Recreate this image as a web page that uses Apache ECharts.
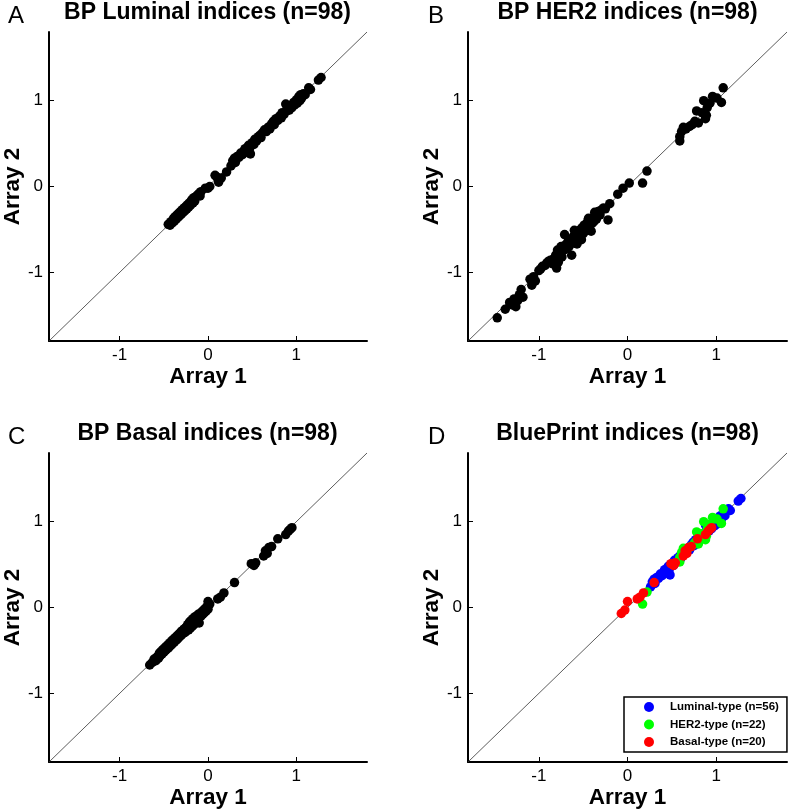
<!DOCTYPE html>
<html><head><meta charset="utf-8">
<script src="https://cdn.jsdelivr.net/npm/echarts@6/dist/echarts.min.js"></script>
<style>html,body{margin:0;padding:0;background:#fff}#c{width:790px;height:811px}</style>
</head><body><div id="c"></div>
<script>
// ---------- data ----------
const tickValues = [-1, 0, 1];
const axisRange = [-1.8, 1.8];
const panelLetters = ['A', 'B', 'C', 'D'];
const panelTitles = ['BP Luminal indices (n=98)', 'BP HER2 indices (n=98)', 'BP Basal indices (n=98)', 'BluePrint indices (n=98)'];
const xAxisName = 'Array 1';
const yAxisName = 'Array 2';
const legendLabels = ['Luminal-type (n=56)', 'HER2-type (n=22)', 'Basal-type (n=20)'];

// Luminal index [array1, array2] of Luminal-type samples (56)
const luminalTypeLum = [[0.26,0.24],[0.28,0.30],[0.30,0.33],[0.33,0.35],[0.35,0.34],[0.37,0.39],[0.39,0.37],[0.41,0.42],[0.43,0.40],[0.45,0.46],[0.47,0.44],[0.48,0.38],[0.50,0.51],[0.52,0.49],[0.53,0.55],[0.55,0.53],[0.57,0.58],[0.59,0.60],[0.60,0.57],[0.62,0.63],[0.64,0.66],[0.66,0.64],[0.68,0.69],[0.70,0.67],[0.72,0.73],[0.74,0.76],[0.75,0.72],[0.77,0.79],[0.79,0.77],[0.81,0.82],[0.83,0.80],[0.84,0.86],[0.86,0.84],[0.88,0.96],[0.89,0.88],[0.90,0.91],[0.92,0.89],[0.93,0.94],[0.95,0.92],[0.97,0.98],[0.98,0.95],[1.00,1.01],[1.01,0.97],[1.03,1.05],[1.04,1.00],[1.05,1.07],[1.06,1.03],[1.08,1.08],[1.10,1.07],[1.14,1.15],[1.16,1.13],[1.25,1.24],[1.28,1.27],[0.46,0.48],[0.31,0.28],[0.42,0.44]];
// Luminal index of the other samples (42)
const otherLum = [[-0.45,-0.44],[-0.43,-0.45],[-0.42,-0.41],[-0.40,-0.42],[-0.39,-0.37],[-0.38,-0.40],[-0.37,-0.35],[-0.36,-0.38],[-0.35,-0.33],[-0.34,-0.36],[-0.33,-0.31],[-0.32,-0.34],[-0.31,-0.29],[-0.30,-0.32],[-0.29,-0.27],[-0.28,-0.30],[-0.27,-0.25],[-0.26,-0.28],[-0.25,-0.23],[-0.24,-0.26],[-0.23,-0.21],[-0.22,-0.24],[-0.21,-0.19],[-0.20,-0.22],[-0.19,-0.17],[-0.18,-0.15],[-0.17,-0.19],[-0.16,-0.13],[-0.15,-0.17],[-0.14,-0.12],[-0.12,-0.10],[-0.10,-0.08],[-0.09,-0.11],[-0.08,-0.06],[-0.03,-0.02],[0.00,-0.02],[0.02,0.00],[0.08,0.13],[0.10,0.11],[0.12,0.05],[0.15,0.10],[0.21,0.17]];

// HER2 index of HER2-type samples (22)
const her2TypeHer2 = [[0.17,0.04],[0.22,0.18],[0.59,0.53],[0.59,0.58],[0.61,0.64],[0.63,0.69],[0.66,0.67],[0.70,0.70],[0.73,0.72],[0.76,0.76],[0.78,0.88],[0.80,0.74],[0.84,0.86],[0.86,1.00],[0.88,0.79],[0.89,0.83],[0.90,0.92],[0.93,0.97],[0.96,1.05],[1.01,1.03],[1.06,0.98],[1.08,1.15]];
// HER2 index of the other samples (76)
const otherHer2 = [[-1.47,-1.53],[-1.38,-1.43],[-1.33,-1.35],[-1.30,-1.38],[-1.28,-1.31],[-1.26,-1.40],[-1.24,-1.33],[-1.22,-1.26],[-1.20,-1.20],[-1.18,-1.29],[-1.10,-1.08],[-1.08,-1.15],[-1.06,-1.05],[-1.04,-1.10],[-1.00,-0.98],[-0.98,-0.96],[-0.96,-0.93],[-0.93,-0.92],[-0.91,-0.89],[-0.89,-0.87],[-0.87,-0.86],[-0.85,-0.90],[-0.83,-0.84],[-0.81,-0.80],[-0.80,-0.95],[-0.79,-0.74],[-0.78,-0.88],[-0.76,-0.78],[-0.75,-0.70],[-0.74,-0.82],[-0.72,-0.74],[-0.71,-0.56],[-0.70,-0.68],[-0.68,-0.72],[-0.67,-0.64],[-0.66,-0.70],[-0.64,-0.62],[-0.63,-0.80],[-0.62,-0.66],[-0.61,-0.58],[-0.60,-0.51],[-0.59,-0.62],[-0.58,-0.55],[-0.57,-0.67],[-0.56,-0.60],[-0.55,-0.52],[-0.54,-0.57],[-0.53,-0.50],[-0.52,-0.62],[-0.51,-0.48],[-0.50,-0.55],[-0.49,-0.45],[-0.48,-0.52],[-0.47,-0.44],[-0.46,-0.49],[-0.45,-0.41],[-0.44,-0.37],[-0.43,-0.47],[-0.42,-0.40],[-0.41,-0.52],[-0.40,-0.43],[-0.39,-0.36],[-0.38,-0.41],[-0.37,-0.30],[-0.36,-0.33],[-0.35,-0.38],[-0.33,-0.29],[-0.31,-0.33],[-0.29,-0.27],[-0.27,-0.25],[-0.25,-0.26],[-0.22,-0.39],[-0.20,-0.20],[-0.11,-0.09],[-0.05,-0.02],[0.02,0.04]];

// Basal index of Basal-type samples (20)
const basalTypeBasal = [[-0.07,-0.07],[-0.03,-0.03],[0.00,0.07],[0.11,0.10],[0.14,0.12],[0.18,0.17],[0.30,0.29],[0.49,0.51],[0.52,0.49],[0.54,0.52],[0.63,0.60],[0.65,0.66],[0.67,0.63],[0.69,0.70],[0.72,0.71],[0.79,0.80],[0.88,0.85],[0.91,0.89],[0.93,0.91],[0.95,0.93]];
// Basal index of the other samples (78)
const otherBasal = [[-0.66,-0.67],[-0.63,-0.64],[-0.61,-0.60],[-0.59,-0.62],[-0.57,-0.57],[-0.56,-0.59],[-0.55,-0.53],[-0.54,-0.56],[-0.53,-0.51],[-0.52,-0.54],[-0.51,-0.49],[-0.50,-0.52],[-0.49,-0.47],[-0.48,-0.50],[-0.47,-0.45],[-0.46,-0.48],[-0.45,-0.43],[-0.44,-0.46],[-0.43,-0.41],[-0.42,-0.44],[-0.41,-0.39],[-0.40,-0.42],[-0.39,-0.37],[-0.38,-0.40],[-0.37,-0.35],[-0.36,-0.38],[-0.35,-0.33],[-0.34,-0.36],[-0.33,-0.31],[-0.32,-0.34],[-0.31,-0.29],[-0.30,-0.32],[-0.29,-0.27],[-0.28,-0.30],[-0.27,-0.25],[-0.26,-0.29],[-0.25,-0.23],[-0.24,-0.27],[-0.23,-0.20],[-0.22,-0.26],[-0.21,-0.17],[-0.20,-0.24],[-0.19,-0.15],[-0.18,-0.22],[-0.17,-0.13],[-0.16,-0.20],[-0.15,-0.11],[-0.14,-0.18],[-0.13,-0.10],[-0.12,-0.15],[-0.11,-0.08],[-0.10,-0.18],[-0.09,-0.07],[-0.08,-0.10],[-0.07,-0.05],[-0.06,-0.08],[-0.05,-0.03],[-0.04,-0.06],[-0.03,-0.01],[-0.02,-0.04],[-0.01,0.01],[0.00,-0.02],[0.02,0.04],[-0.45,-0.47],[-0.40,-0.38],[-0.35,-0.37],[-0.30,-0.28],[-0.25,-0.26],[-0.20,-0.19],[-0.18,-0.16],[-0.22,-0.21],[-0.28,-0.27],[-0.33,-0.33],[-0.38,-0.39],[-0.43,-0.43],[-0.48,-0.48],[-0.53,-0.54],[-0.58,-0.58]];

const typeColors = ['#0000ff', '#00ff00', '#ff0000'];

// ---------- chart ----------
const FONT = '"Liberation Sans", Arial, Helvetica, sans-serif';
const grids = [
  {left: 48, top: 32, width: 319, height: 309},
  {left: 468, top: 32, width: 319, height: 309},
  {left: 48, top: 453, width: 319, height: 309},
  {left: 468, top: 453, width: 319, height: 309}
];

function mkAxis(i, isX) {
  return {
    type: 'value', gridIndex: i, min: axisRange[0], max: axisRange[1],
    name: isX ? xAxisName : yAxisName, nameLocation: 'middle',
    nameGap: isX ? 24 : 25,
    nameTextStyle: {fontFamily: FONT, fontSize: 22.5, fontWeight: 'bold', color: '#000'},
    axisLine: {show: true, onZero: false, lineStyle: {color: '#000', width: 2}},
    axisTick: {show: true, inside: true, length: 5, customValues: tickValues, lineStyle: {color: '#000', width: 1}},
    axisLabel: {show: true, customValues: tickValues, margin: 6, fontFamily: FONT, fontSize: 17, color: '#000',
      formatter: v => (v < 0 ? '-' + Math.abs(v) : String(v))},
    splitLine: {show: false}
  };
}

const titles = [];
grids.forEach((g, i) => {
  titles.push({text: panelTitles[i], left: g.left + g.width / 2, top: g.top - 31, textAlign: 'center', padding: 0,
    textStyle: {fontFamily: FONT, fontSize: 23, fontWeight: 'bold', color: '#000'}});
  titles.push({text: panelLetters[i], left: g.left - 40, top: g.top - 28, padding: 0,
    textStyle: {fontFamily: FONT, fontSize: 24, fontWeight: 'normal', color: '#000'}});
});

const diag = [[axisRange[0], axisRange[0]], [axisRange[1], axisRange[1]]];
const series = [];
for (let i = 0; i < 4; i++) {
  series.push({type: 'line', xAxisIndex: i, yAxisIndex: i, data: diag, symbol: 'none', silent: true,
    lineStyle: {color: '#333', width: 0.8}, z: 1});
}
const blackStyle = {type: 'scatter', symbol: 'circle', symbolSize: 9.5, itemStyle: {color: '#000', opacity: 1}, z: 3};
series.push(Object.assign({}, blackStyle, {xAxisIndex: 0, yAxisIndex: 0, data: luminalTypeLum.concat(otherLum)}));
series.push(Object.assign({}, blackStyle, {xAxisIndex: 1, yAxisIndex: 1, data: her2TypeHer2.concat(otherHer2)}));
series.push(Object.assign({}, blackStyle, {xAxisIndex: 2, yAxisIndex: 2, data: basalTypeBasal.concat(otherBasal)}));
[luminalTypeLum, her2TypeHer2, basalTypeBasal].forEach((d, k) => {
  series.push({type: 'scatter', name: legendLabels[k], xAxisIndex: 3, yAxisIndex: 3, data: d, symbol: 'circle', symbolSize: 9.5,
    itemStyle: {color: typeColors[k], opacity: 1}, z: 3 + k});
});

const chart = echarts.init(document.getElementById('c'), null, {renderer: 'canvas'});
chart.setOption({
  animation: false,
  backgroundColor: '#fff',
  title: titles,
  grid: grids,
  xAxis: grids.map((g, i) => mkAxis(i, true)),
  yAxis: grids.map((g, i) => mkAxis(i, false)),
  legend: {
    data: legendLabels, orient: 'vertical', left: 624, top: 697, selectedMode: false,
    itemWidth: 10, itemHeight: 10, itemGap: 5.5, icon: 'circle',
    padding: [4, 8, 4, 20], borderColor: '#000', borderWidth: 1.5, backgroundColor: '#fff',
    textStyle: {fontFamily: FONT, fontSize: 11.5, fontWeight: 'bold', color: '#000', padding: [0, 0, 0, 11]}
  },
  series: series
});
</script></body></html>
